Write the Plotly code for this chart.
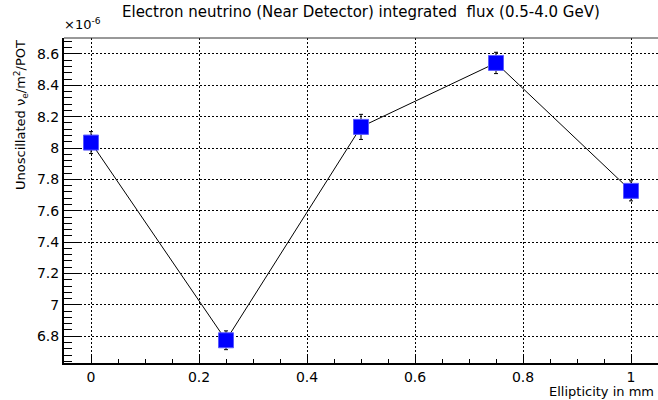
import plotly.graph_objects as go

# ---- data (flux in units of 1e-6 nu_e / m^2 / POT) ----
ellipticity = [0.0, 0.25, 0.5, 0.75, 1.0]
flux = [8.035, 6.774, 8.135, 8.543, 7.727]
flux_err = [0.07, 0.06, 0.08, 0.068, 0.064]

x_tickvals = [0, 0.2, 0.4, 0.6, 0.8, 1.0]
x_ticktext = ["0", "0.2", "0.4", "0.6", "0.8", "1"]
y_tickvals = [6.8, 7.0, 7.2, 7.4, 7.6, 7.8, 8.0, 8.2, 8.4, 8.6]
y_ticktext = ["6.8", "7", "7.2", "7.4", "7.6", "7.8", "8", "8.2", "8.4", "8.6"]

title_text = "Electron neutrino (Near Detector) integrated\u00a0 flux (0.5-4.0 GeV)"
x_title = "Ellipticity in mm"
y_title = "Unoscillated \u03bd<sub>e</sub>/m<sup>2</sup>/POT"
exponent_text = "\u00d710<sup>-6</sup>"

FONT = "DejaVu Sans"

fig = go.Figure()
fig.add_trace(go.Scatter(
    x=ellipticity, y=flux,
    mode="lines+markers",
    line=dict(color="black", width=1),
    marker=dict(symbol="square", size=15, color="#0000ff",
                line=dict(width=1, color="#5a5aff")),
    error_y=dict(type="data", array=flux_err, visible=True,
                 color="black", thickness=1, width=2),
    showlegend=False,
))

axis_common = dict(
    showline=True, linecolor="black", linewidth=2,
    ticks="inside", tickcolor="black", tickwidth=1,
    showgrid=True, gridcolor="black", gridwidth=1, griddash="2px,2px",
    zeroline=False,
    tickfont=dict(family=FONT, size=14, color="black"),
)

fig.update_xaxes(
    range=[-0.05, 1.05], tickvals=x_tickvals, ticktext=x_ticktext,
    ticklen=9,
    minor=dict(ticks="inside", ticklen=4, dtick=0.05, tick0=0,
               tickcolor="black", showgrid=False),
    **axis_common,
)
fig.update_yaxes(
    range=[6.629, 8.702], tickvals=y_tickvals, ticktext=y_ticktext,
    ticklen=17,
    minor=dict(ticks="inside", ticklen=8, dtick=0.04, tick0=6.8,
               tickcolor="black", showgrid=False),
    **axis_common,
)

fig.update_layout(
    width=658, height=400,
    margin=dict(l=64, r=0, t=38, b=37),
    plot_bgcolor="white", paper_bgcolor="white",
    font=dict(family=FONT, color="black"),
    shapes=[dict(type="line", xref="paper", yref="paper",
                 x0=0, x1=1, y0=1, y1=1,
                 line=dict(color="#333333", width=1))],
    annotations=[
        dict(text=title_text, xref="paper", yref="paper",
             x=(361 - 64) / 594, y=1, yshift=26, xanchor="center", yanchor="middle",
             showarrow=False, font=dict(family=FONT, size=15)),
        dict(text=x_title, xref="paper", yref="paper",
             x=1, xshift=-2, y=0, yshift=-28, xanchor="right", yanchor="middle",
             showarrow=False, font=dict(family=FONT, size=13)),
        dict(text=y_title, xref="paper", yref="paper",
             x=0, xshift=-43, y=1, xanchor="center", yanchor="top",
             textangle=-90, showarrow=False, font=dict(family=FONT, size=13)),
        dict(text=exponent_text, xref="paper", yref="paper",
             x=0, xshift=-2, y=1, yshift=4, xanchor="left", yanchor="bottom",
             showarrow=False, font=dict(family=FONT, size=13)),
    ],
)

fig.write_html(
    "out.html",
    config={"displayModeBar": False},
    post_script="document.body.style.margin='0';document.body.style.padding='0';",
)
